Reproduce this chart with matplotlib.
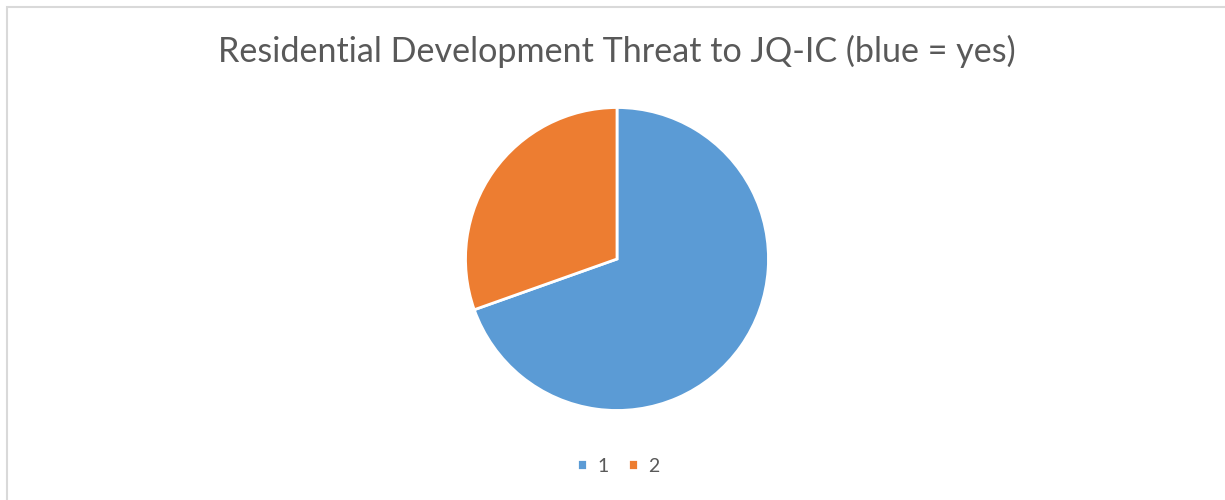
import matplotlib.pyplot as plt
from matplotlib.patches import Rectangle

labels = ['1', '2']
values = [16, 7]
colors = ['#5b9bd5', '#ed7d31']
title = 'Residential Development Threat to JQ-IC (blue = yes)'

W, H = 1225, 500
fig = plt.figure(figsize=(W / 100, H / 100), dpi=100)
fig.patch.set_facecolor('white')

# chart frame (runs off the right and bottom edges)
fig.add_artist(Rectangle((7 / W, -0.1), 1.2, 493 / H + 0.1, transform=fig.transFigure,
                         fill=False, edgecolor='#d9d9d9', linewidth=1.5))

cx, cy, r = 617, 259, 153
ax = fig.add_axes([(cx - r) / W, (H - cy - r) / H, 2 * r / W, 2 * r / H])
wedges, _ = ax.pie(values, colors=colors, startangle=90, counterclock=False,
                   radius=1, wedgeprops=dict(edgecolor='white', linewidth=2))
ax.set_xlim(-1.01, 1.01)
ax.set_ylim(-1.01, 1.01)
ax.set_aspect('equal')
ax.axis('off')

fig.text(617 / W, 1 - 51 / H, title, ha='center', va='center',
         fontsize=24.6, color='#595959', family='Lato')

fig.legend(wedges, labels, loc='center', bbox_to_anchor=(618 / W, 1 - 466 / H),
           ncol=2, frameon=False, handlelength=0.55, handleheight=0.55,
           handletextpad=0.5, columnspacing=1.0,
           prop=dict(family='Lato', size=14), labelcolor='#595959')

fig.savefig('out.png', dpi=100)
